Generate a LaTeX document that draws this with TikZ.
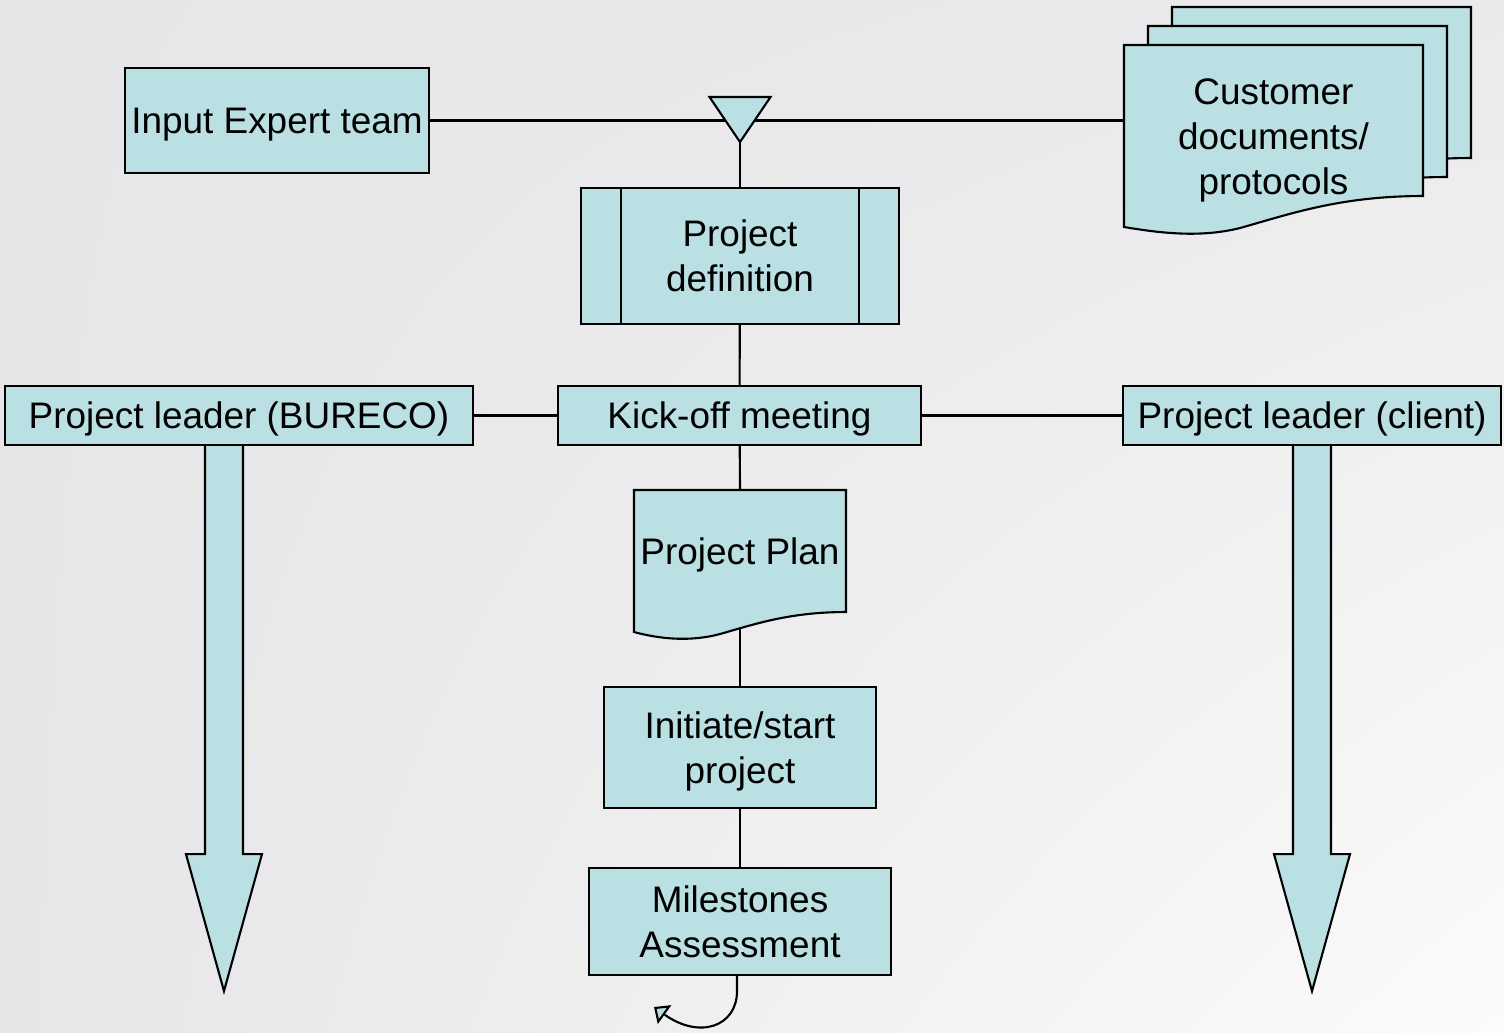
\documentclass[tikz,border=0pt]{standalone}
\usepackage{fontspec}
\setmainfont{Liberation Sans}
\usetikzlibrary{arrows.meta,
                shadings}
\pgfdeclarelayer{shade}
\pgfdeclarelayer{back}
\pgfsetlayers{shade,back,main}
\definecolor{boxfill}{HTML}{BBE0E3}
\definecolor{bgdark}{HTML}{E6E6E8}
\definecolor{bgmid}{HTML}{EAEAEC}
\definecolor{bglight}{HTML}{FBFBFB}

\begin{document}
\begin{tikzpicture}[
     x = 0.01cm, y = -0.01cm,
  font = \fontsize{10.5}{12.8}\selectfont,
   box/.style = {rectangle, draw, line width=0.6pt, fill=boxfill,
                 inner sep=0pt, align=center, text depth=0pt},
  proc/.style = {box,
                 path picture={
                   \draw[line width=0.6pt]
                     ([xshift=4mm]path picture bounding box.north west) --
                     ([xshift=4mm]path picture bounding box.south west)
                     ([xshift=-4mm]path picture bounding box.north east) --
                     ([xshift=-4mm]path picture bounding box.south east);}},
   txt/.style = {inner sep=0pt, align=center, text depth=0pt},
  link/.style = {line width=0.6pt},
  page/.style = {draw, line width=0.6pt, fill=boxfill},
                        ]
% background
\begin{pgfonlayer}{shade}
\shade[upper left=bgdark, upper right=bgmid,
       lower left=bgdark, lower right=bglight] (0,0) rectangle (1504,1032);
\end{pgfonlayer}
\useasboundingbox (0,0) rectangle (1504,1032);

\node[box, minimum width=3.04cm, minimum height=1.05cm] (expert) at (277,120.5)
      {Input Expert team};
\node[txt, minimum width=2.99cm] (cust) at (1273.5,137)
      {Customer\\ documents/\\ protocols};
\coordinate (mrg) at (740,142);
\node[proc, minimum width=3.18cm, minimum height=1.36cm] (def) at (740,256)
      {Project\\ definition};
\node[box, minimum width=3.63cm, minimum height=0.59cm] (kick) at (739.5,415.5)
      {Kick-off meeting};
\node[box, minimum width=4.68cm, minimum height=0.59cm] (lb) at (239,415.5)
      {Project leader (BURECO)};
\node[box, minimum width=3.78cm, minimum height=0.59cm] (lc) at (1312,415.5)
      {Project leader (client)};
\node[txt, minimum width=2.12cm, minimum height=1.22cm] (plan) at (740,551)
      {Project Plan};
\node[box, minimum width=2.72cm, minimum height=1.21cm] (init) at (740,747.5)
      {Initiate/start\\ project};
\node[box, minimum width=3.02cm, minimum height=1.07cm] (mile) at (740,921.5)
      {Milestones\\ Assessment};
\coordinate (loop) at (654,1007);

\begin{pgfonlayer}{back}
\draw[link] (expert) -- (expert -| cust.west);
\draw[link] (mrg)  -- (def);
\draw[link] (def)  -- (kick);
\draw[link] (lb)   -- (kick);
\draw[link] (kick) -- (lc);
\draw[link] (kick) -- (plan.north);
\draw[link] (plan.south) -- (init);
\draw[link] (init) -- (mile);
% stacked customer documents
\foreach \dx/\dy in {48/38, 24/19, 0/0}
  \draw[page, shift={(\dx,-\dy)}]
    (1124,45) -- (1423,45) -- (1423,196)
    .. controls (1340,196) and (1290,214) .. (1240,228)
    .. controls (1200,238) and (1160,233) .. (1124,227) -- cycle;
% project plan document
\draw[page] (634,490) -- (846,490) -- (846,612)
    .. controls (790,612) and (755,624) .. (720,634)
    .. controls (690,642) and (660,639) .. (634,632) -- cycle;
\end{pgfonlayer}

% merge triangle
\draw[page] (mrg) -- ++(-30.5,-45) -- ++(61,0) -- cycle;
% wide arrows below the leaders
\foreach \n/\dx in {lb/-0.34cm, lc/-0.19cm}
  \draw[page] ([xshift=\dx]\n.south) -- ++(0,408) -- ++(-19,0) -- ++(38,137)
      -- ++(38,-137) -- ++(-19,0) -- ++(0,-408);
\draw[link, -{Triangle[length=3.7pt, width=6.5pt, fill=boxfill]}]
    ([xshift=-0.03cm]mile.south) -- ++(0,15)
    .. controls +(0,35) and (700,1040) .. (loop);
\end{tikzpicture}
\end{document}
